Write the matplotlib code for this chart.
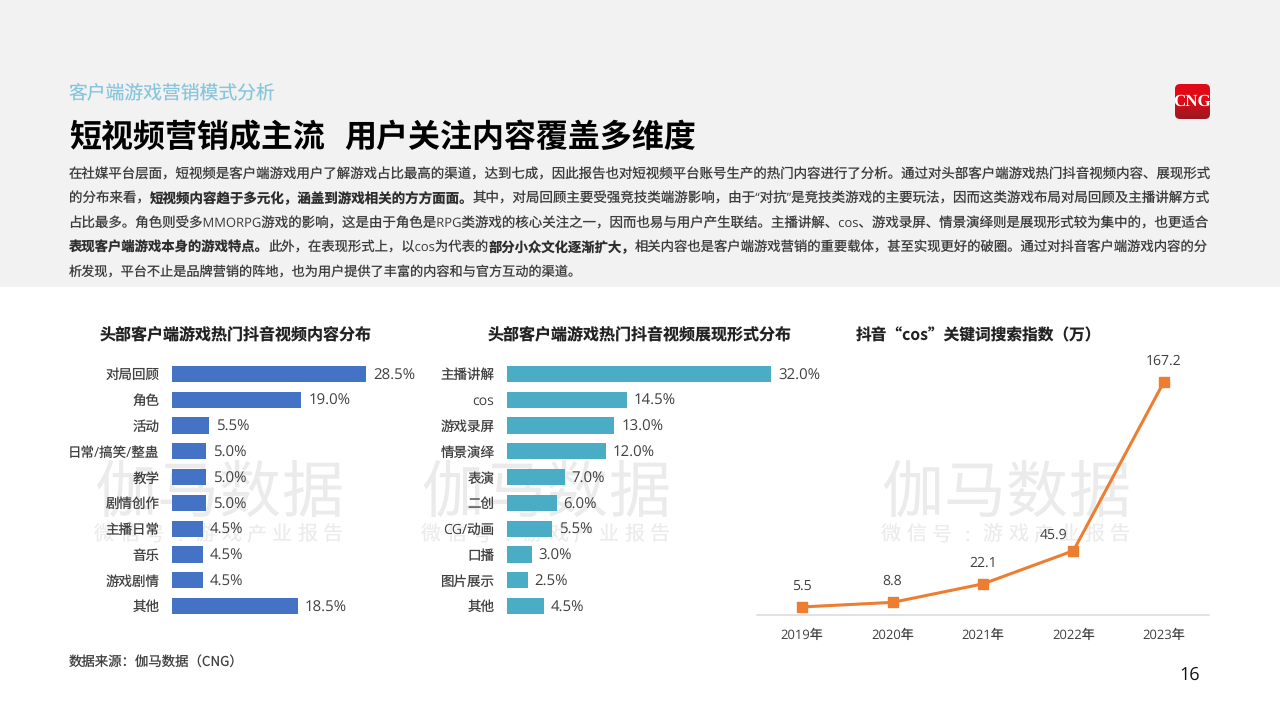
import numpy as np
import matplotlib
matplotlib.use("Agg")
import matplotlib.pyplot as plt
from matplotlib.patches import FancyBboxPatch, Rectangle

FAM = ['Open Sans', 'Noto Sans CJK SC', 'DejaVu Sans']
CJK = ['Noto Sans CJK SC', 'DejaVu Sans']
plt.rcParams['font.family'] = FAM
plt.rcParams['text.hinting'] = 'no_hinting'
plt.rcParams['text.hinting_factor'] = 1

# ---------- data ----------
content_cats = ['对局回顾', '角色', '活动', '日常/搞笑/整蛊', '教学', '剧情创作', '主播日常', '音乐', '游戏剧情', '其他']
content_vals = [28.5, 19.0, 5.5, 5.0, 5.0, 5.0, 4.5, 4.5, 4.5, 18.5]
form_cats = ['主播讲解', 'cos', '游戏录屏', '情景演绎', '表演', '二创', 'CG/动画', '口播', '图片展示', '其他']
form_vals = [32.0, 14.5, 13.0, 12.0, 7.0, 6.0, 5.5, 3.0, 2.5, 4.5]
years = ['2019年', '2020年', '2021年', '2022年', '2023年']
cos_index = [5.5, 8.8, 22.1, 45.9, 167.2]

subtitle = '客户端游戏营销模式分析'
headline = ['短视频营销成主流', '用户关注内容覆盖多维度']
chart_titles = ['头部客户端游戏热门抖音视频内容分布', '头部客户端游戏热门抖音视频展现形式分布', '抖音“cos”关键词搜索指数（万）']
source_note = '数据来源：伽马数据（CNG）'
page_no = '16'
wm_main = '伽马数据'
wm_sub = '微信号:游戏产业报告'
body_lines = [
    [('在社媒平台层面，短视频是客户端游戏用户了解游戏占比最高的渠道，达到七成，因此报告也对短视频平台账号生产的热门内容进行了分析。通过对头部客户端游戏热门抖音视频内容、展现形式', False)],
    [('的分布来看，', False), ('短视频内容趋于多元化，涵盖到游戏相关的方方面面。', True),
     ('其中，对局回顾主要受强竞技类端游影响，由于“对抗”是竞技类游戏的主要玩法，因而这类游戏布局对局回顾及主播讲解方式', False)],
    [('占比最多。角色则受多MMORPG游戏的影响，这是由于角色是RPG类游戏的核心关注之一，因而也易与用户产生联结。主播讲解、cos、游戏录屏、情景演绎则是展现形式较为集中的，也更适合', False)],
    [('表现客户端游戏本身的游戏特点。', True), ('此外，在表现形式上，以cos为代表的', False), ('部分小众文化逐渐扩大，', True),
     ('相关内容也是客户端游戏营销的重要载体，甚至实现更好的破圈。通过对抖音客户端游戏内容的分', False)],
    [('析发现，平台不止是品牌营销的阵地，也为用户提供了丰富的内容和与官方互动的渠道。', False)],
]

W, H = 1280, 720
px = 0.72  # font points per pixel at dpi=100
fig = plt.figure(figsize=(12.8, 7.2), dpi=100, facecolor='white')
renderer = fig.canvas.get_renderer()

# page layer in pixel coordinates
bg = fig.add_axes([0, 0, 1, 1], zorder=0)
bg.set_xlim(0, W); bg.set_ylim(H, 0); bg.axis('off')
bg.add_patch(Rectangle((0, 0), W, 287, fc='#f2f2f2', ec='none'))

bg.text(68.5, 93, subtitle, fontsize=18.8*px, color='#86c5dc', va='center', family=CJK)
bg.text(69, 137.5, headline[0], fontsize=32*px, color='black', va='center', weight='bold', family=CJK)
bg.text(344, 137.5, headline[1], fontsize=32*px, color='black', va='center', weight='bold', family=CJK)

# body text: justified lines with bold runs
def draw_line(segs, y, x0, target, size=14.0):
    def lay(sz):
        x = x0
        items = []
        for s, b in segs:
            t = bg.text(x, y, s, fontsize=sz*px, va='center', ha='left', family=FAM,
                        color='#2e2e2e' if b else '#3c3c3c', weight='bold' if b else 'normal')
            x += t.get_window_extent(renderer).width
            items.append(t)
        return x, items
    fs = size
    for _ in range(3):
        x, items = lay(fs)
        for t in items:
            t.remove()
        fs *= (target - x0) / (x - x0)
    lay(fs)

body_y = [175, 199.3, 223.7, 248, 272]
body_end = [1209, 1208, 1209, 1207, 582]
for segs, y, e in zip(body_lines, body_y, body_end):
    draw_line(segs, y, 68.5, e)

# watermark
def watermark(x0, x1):
    xs = np.linspace(x0 + 31, x1 - 31, len(wm_main))
    for c, x in zip(wm_main, xs):
        bg.text(x, 494, c, fontsize=62*px, color='#ebebeb', ha='center', va='center', family=CJK)
    xs = np.linspace(x0 + 10, x1 - 10, len(wm_sub))
    for c, x in zip(wm_sub, xs):
        bg.text(x, 535, c, fontsize=20*px, color='#ebebeb', ha='center', va='center', family=CJK)
for a, b in [(94, 343), (421, 670), (881, 1130)]:
    watermark(a, b)

bg.text(69, 662.5, source_note, fontsize=13.4*px, color='#404040', va='center', family=CJK)
bg.text(1190, 675, page_no, fontsize=18*px, color='#111111', va='center', ha='center')

for t, x, f, s in zip(chart_titles, [235.5, 639.5, 978.5], [FAM, FAM, CJK], [16, 16, 15.7]):
    bg.text(x, 335.5, t, fontsize=s*px, color='#222222', weight='bold', ha='center', va='center', family=f)

# logo
box = FancyBboxPatch((1178, 87), 29, 29, boxstyle='round,pad=3,rounding_size=5', fc='none', ec='none')
bg.add_patch(box)
grad = np.linspace(0, 1, 64)[:, None]
c0, c1 = np.array([0.88, 0.04, 0.09]), np.array([0.60, 0.10, 0.13])
stops = np.clip((grad - 0.45) / 0.55, 0, 1)
img = (c0 * (1 - stops)[..., None] + c1 * stops[..., None]).reshape(64, 1, 3)
im = bg.imshow(img, extent=(1175, 1210, 119, 84), aspect='auto', zorder=1)
im.set_clip_path(box)
bg.set_xlim(0, W); bg.set_ylim(H, 0)
bg.text(1192.5, 102, 'CNG', fontsize=17*px, color='white', weight='bold', ha='center', va='center',
        family='Liberation Serif', zorder=2)

def pixel_axes(l, t, r, b):
    ax = fig.add_axes([l/W, 1 - b/H, (r-l)/W, (b-t)/H], zorder=2)
    ax.patch.set_alpha(0)
    return ax

def hbar(l, r, cats, vals, color, px_per_unit):
    ax = pixel_axes(l, 361, r, 619)
    y = np.arange(len(cats))
    ax.barh(y, vals, height=0.63, color=color)
    ax.set_xlim(0, (r - l) / px_per_unit)
    ax.set_ylim(len(cats) - 0.5, -0.5)
    ax.set_yticks(y, cats, fontsize=13.5*px, color='#404040')
    ax.tick_params(axis='y', length=0, pad=9)
    ax.set_xticks([])
    for s in ax.spines.values():
        s.set_visible(False)
    for yi, v in zip(y, vals):
        ax.annotate(f'{v:.1f}%', (v, yi), xytext=(5, -1.2), textcoords='offset points',
                    va='center', ha='left', fontsize=14.6*px, color='#404040')
    return ax

hbar(172, 440, content_cats, content_vals, '#4472c4', 6.807)
hbar(507, 830, form_cats, form_vals, '#4bacc6', 8.25)

# line chart
lax = pixel_axes(757, 350, 1209, 614.6)
x = np.arange(len(years))
lax.plot(x, cos_index, color='#ed7d31', lw=2.2, marker='s', ms=7.6, mfc='#ed7d31', mec='#ed7d31', clip_on=False)
lax.set_xlim(-0.5, 4.5)
lax.set_ylim(0, 264.6 / 1.391)
lax.set_xticks(x, years, fontsize=13*px, color='#404040')
lax.set_yticks([])
lax.tick_params(axis='x', length=0, pad=10.5)
for k, s in lax.spines.items():
    s.set_visible(k == 'bottom')
lax.spines['bottom'].set_color('#d9d9d9')
lax.spines['bottom'].set_linewidth(1.1)
offsets = [(0, 15), (0, 15), (0, 15), (-14, 11), (0, 15)]
for xi, v, off in zip(x, cos_index, offsets):
    lax.annotate(f'{v:.1f}', (xi, v), xytext=off, textcoords='offset points',
                 ha='center', va='center', fontsize=14.4*px, color='#404040')

fig.savefig('out.png', dpi=100)
